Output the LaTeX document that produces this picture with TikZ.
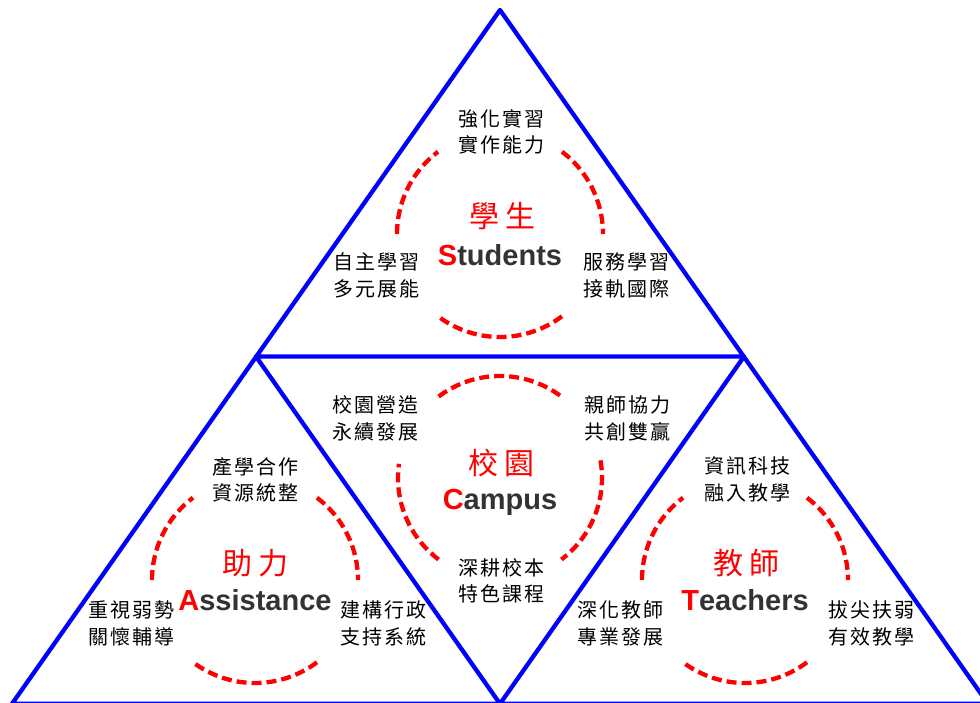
\documentclass[tikz,border=0pt]{standalone}
\usepackage{fontspec}
\setmainfont{Liberation Sans}
\newfontfamily\cjk[LetterSpace=10]{Noto Sans CJK TC}
\newfontfamily\cjkred[LetterSpace=17]{Noto Sans CJK TC}
\definecolor{triblue}{RGB}{0,0,255}
\definecolor{ringred}{RGB}{255,0,0}
\definecolor{txtgray}{HTML}{333333}
\begin{document}
\begin{tikzpicture}[x=1pt,y=-1pt,
  tri/.style={draw=triblue,line width=4.3pt,line join=round},
  ring/.style={draw=ringred,line width=4.3pt,dash pattern=on 10pt off 5pt},
  lbl/.style={font=\cjk\fontsize{20}{26.5}\selectfont,align=center,inner sep=0pt,text=black,xshift=1pt},
  ttl/.style={font=\cjkred\fontsize{30}{30}\selectfont,text=ringred,inner sep=0pt,xshift=2.5pt},
  eng/.style={font=\bfseries\fontsize{29}{29}\selectfont,text=txtgray,anchor=base,inner sep=0pt}]
\useasboundingbox (0,0) rectangle (980,702);
\begin{scope}
\clip (0,0) rectangle (980,702);
% triangles
\coordinate (A) at (500,10);
\coordinate (B) at (12,703.8);
\coordinate (C) at (988,703.8);
\coordinate (mAB) at (256,356.5);
\coordinate (mAC) at (744,356.5);
\coordinate (mBC) at (500,703.8);
\draw[tri] (A) -- (B) -- (C) -- cycle;
\draw[tri] (mAB) -- (mAC) -- (mBC) -- cycle;
% ring centres
\coordinate (cS) at (500,234);
\coordinate (cC) at (500,478);
\coordinate (cA) at (255,580);
\coordinate (cT) at (745,580);
% upright rings (Students, Assistance, Teachers)
\foreach \c in {cS,cA,cT}{
  \draw[ring] ([shift={(-180:103)}]\c) arc[start angle=-180,end angle=-127,radius=103];
  \draw[ring] ([shift={(-53:103)}]\c) arc[start angle=-53,end angle=0,radius=103];
  \draw[ring] ([shift={(53:103)}]\c) arc[start angle=53,end angle=127,radius=103];
}
% inverted ring (Campus)
\draw[ring] ([shift={(-127:102)}]cC) arc[start angle=-127,end angle=-53,radius=102];
\draw[ring] ([shift={(127:102)}]cC) arc[start angle=127,end angle=188,radius=102];
\draw[ring] ([shift={(-10:102)}]cC) arc[start angle=-10,end angle=53,radius=102];
\end{scope}
% Students
\node[lbl] (sTop) at (500,132) {強化實習\\實作能力};
\node[lbl] (sLeft) at (375,275.5) {自主學習\\多元展能};
\node[lbl] (sRight) at (625,275.5) {服務學習\\接軌國際};
\node[ttl] (sTitle) at (500,216) {學生};
\node[eng] (sEng) at (500,265) {\textcolor{ringred}{S}tudents};
% Campus
\node[lbl] (cLeft) at (374,418.5) {校園營造\\永續發展};
\node[lbl] (cRight) at (626,418.5) {親師協力\\共創雙贏};
\node[ttl] (cTitle) at (499,463) {校園};
\node[eng] (cEng) at (500,509) {\textcolor{ringred}{C}ampus};
\node[lbl] (cBot) at (500,581) {深耕校本\\特色課程};
% Assistance
\node[lbl] (aTop) at (254,480) {產學合作\\資源統整};
\node[ttl] (aTitle) at (253,563) {助力};
\node[eng] (aEng) at (255,610) {\textcolor{ringred}{A}ssistance};
\node[lbl] (aLeft) at (130,623.5) {重視弱勢\\關懷輔導};
\node[lbl] (aRight) at (382,623.5) {建構行政\\支持系統};
% Teachers
\node[lbl] (tTop) at (746,479.5) {資訊科技\\融入教學};
\node[ttl] (tTitle) at (744,563) {教師};
\node[eng] (tEng) at (745,610.5) {\textcolor{ringred}{T}eachers};
\node[lbl] (tLeft) at (619,623.5) {深化教師\\專業發展};
\node[lbl] (tRight) at (870,623.5) {拔尖扶弱\\有效教學};
\end{tikzpicture}
\end{document}
